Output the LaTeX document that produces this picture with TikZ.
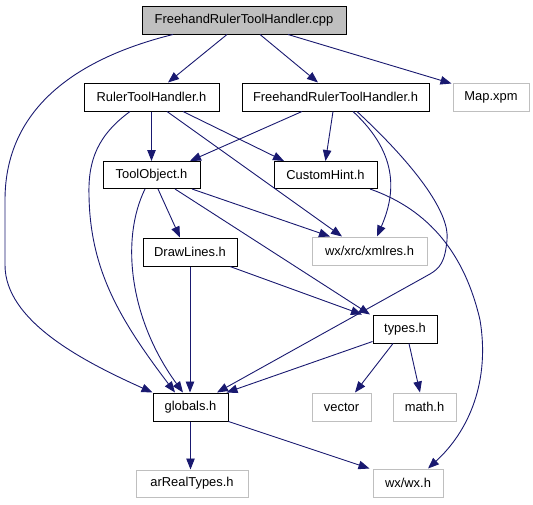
\documentclass[tikz,border=0pt]{standalone}
\usepackage{fontspec}
\setmainfont{Liberation Sans}
\usetikzlibrary{arrows.meta}
\definecolor{edgeblue}{HTML}{191970}
\definecolor{extgray}{HTML}{BFBFBF}
\definecolor{rootfill}{HTML}{BFBFBF}
\tikzset{
  docnode/.style={draw=black, line width=1pt, fill=white, minimum height=28pt, inner sep=0pt,
    font=\fontsize{12.9}{15}\selectfont},
  extnode/.style={docnode, draw=extgray},
  dep/.style={draw=edgeblue, line width=0.9pt, -{Triangle[length=11pt,width=8.5pt]}}
}
\begin{document}
\begin{tikzpicture}[x=1pt,y=-1pt]
\useasboundingbox (0,0) rectangle (533,504);
% nodes
\node[docnode, fill=rootfill, minimum width=204pt] (root) at (244,20) {FreehandRulerToolHandler.cpp};
\node[docnode, minimum width=135pt] (rth) at (151.5,97) {RulerToolHandler.h};
\node[docnode, minimum width=187pt] (frth) at (335.5,97) {FreehandRulerToolHandler.h};
\node[extnode, minimum width=76pt] (map) at (491,97) {Map.xpm};
\node[docnode, minimum width=97pt, minimum height=27pt] (to) at (151.5,175) {ToolObject.h};
\node[docnode, minimum width=103pt, minimum height=27pt] (ch) at (325.5,175) {CustomHint.h};
\node[docnode, minimum width=94pt] (dl) at (190,252) {DrawLines.h};
\node[extnode, minimum width=115pt] (xml) at (369.5,251) {wx/xrc/xmlres.h};
\node[docnode, minimum width=64pt] (ty) at (405,329) {types.h};
\node[docnode, minimum width=75pt] (gl) at (190.5,407) {globals.h};
\node[extnode, minimum width=59pt] (vec) at (341.5,407) {vector};
\node[extnode, minimum width=63pt] (math) at (424.5,407) {math.h};
\node[extnode, minimum width=112pt, minimum height=27pt] (ar) at (192,483.5) {arRealTypes.h};
\node[extnode, minimum width=70pt] (wx) at (408,483) {wx/wx.h};
% edges
\draw[dep] ([xshift=-17pt]root.south) -- ([xshift=16.5pt]rth.north);
\draw[dep] ([xshift=16pt]root.south) -- ([xshift=-17.5pt]frth.north);
\draw[dep] ([xshift=44pt]root.south) -- ([xshift=-1pt,yshift=-1pt]map.north west);
\draw[dep] ([xshift=-71pt]root.south) .. controls (90,55) and (5,100) .. (5,200) -- (5,265)
  .. controls (5,320) and (80,360) .. (gl.north west);
\draw[dep] (rth) -- (to);
\draw[dep] ([xshift=31.5pt]rth.south) -- ([xshift=-41.5pt]ch.north);
\draw[dep] ([xshift=15.5pt]rth.south) -- ([xshift=-27.5pt]xml.north);
\draw[dep] ([xshift=-21.5pt]rth.south) .. controls (98,135) and (88,160) .. (89,195)
  .. controls (90,270) and (120,320) .. ([xshift=-15.5pt]gl.north);
\draw[dep] ([xshift=-33.5pt]frth.south) -- ([xshift=38.5pt]to.north);
\draw[dep] ([xshift=-2.5pt]frth.south) -- (ch.north);
\draw[dep] ([xshift=17.5pt]frth.south) .. controls (400,155) and (395,195) .. ([xshift=7.5pt]xml.north);
\draw[dep] ([xshift=21.5pt]frth.south) .. controls (420,170) and (450,215) .. (447,240)
  .. controls (445,262) and (440,268) .. (430,274) -- ([xshift=26.5pt]gl.north);
\draw[dep] ([xshift=6.5pt]to.south) -- ([xshift=-10pt]dl.north);
\draw[dep] ([xshift=40.5pt]to.south) -- ([xshift=-39.5pt]xml.north);
\draw[dep] ([xshift=23.5pt]to.south) -- ([xshift=-35pt]ty.north);
\draw[dep] ([xshift=-6.5pt]to.south) .. controls (120,240) and (130,320) .. ([xshift=-7.5pt]gl.north);
\draw[dep] ([xshift=44.5pt]ch.south) .. controls (430,210) and (465,255) .. (480,320)
  .. controls (490,380) and (470,430) .. ([xshift=20pt]wx.north);
\draw[dep] (dl.south) -- (dl.south |- gl.north);
\draw[dep] ([xshift=40pt]dl.south) -- ([xshift=-43pt]ty.north);
\draw[dep] ([yshift=2pt]ty.south west) -- ([xshift=-2pt]gl.north east);
\draw[dep] ([xshift=-12pt]ty.south) -- ([xshift=13.5pt]vec.north);
\draw[dep] ([xshift=4pt]ty.south) -- ([xshift=-4.5pt]math.north);
\draw[dep] (gl.south) -- (gl.south |- ar.north);
\draw[dep] (gl.south east) -- ([xshift=-3pt]wx.north west);
\end{tikzpicture}
\end{document}
